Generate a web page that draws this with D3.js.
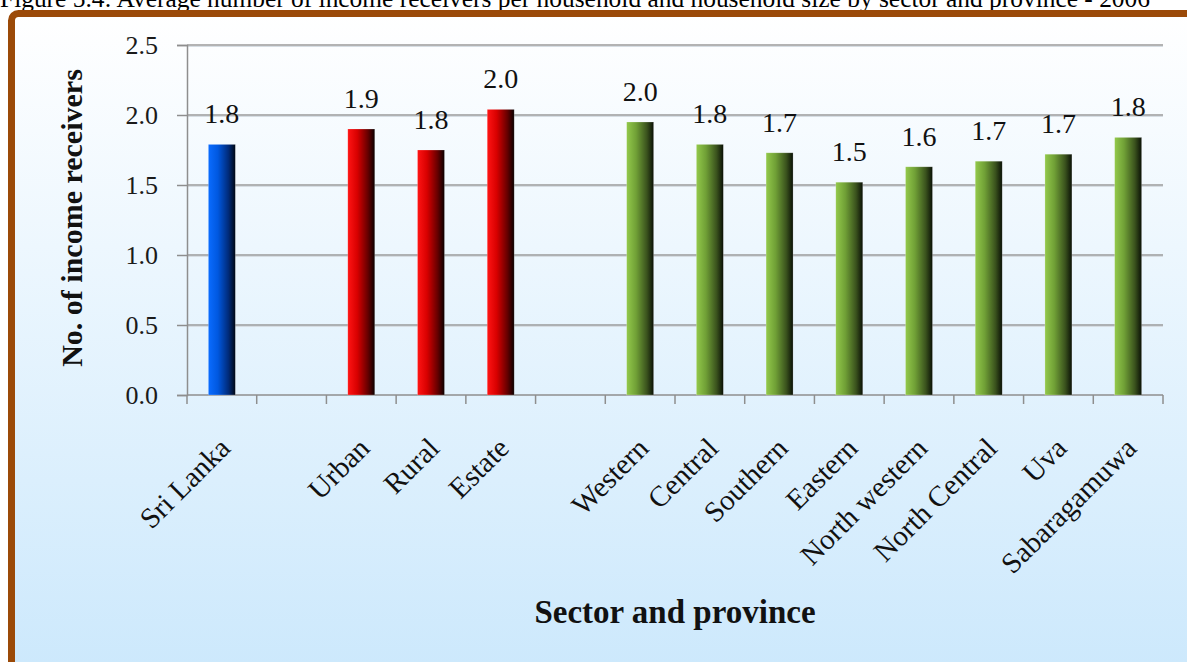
<!DOCTYPE html>
<html>
<head>
<meta charset="utf-8">
<script src="https://cdn.jsdelivr.net/npm/d3@7"></script>
<style>
  html, body { margin: 0; padding: 0; background: #ffffff; }
  svg { display: block; }
  text { font-family: "Liberation Serif", "Times New Roman", serif; }
</style>
</head>
<body>
<svg id="chart" width="1187" height="662"></svg>
<script>
// ---- data ----
const titleText = "Figure 5.4:  Average number of income receivers per household and household size by sector and province - 2006";
const categories = ["Sri Lanka", "", "Urban", "Rural", "Estate", "", "Western", "Central", "Southern", "Eastern", "North western", "North Central", "Uva", "Sabaragamuwa"];
const values = [1.79, null, 1.90, 1.75, 2.04, null, 1.95, 1.79, 1.73, 1.52, 1.63, 1.67, 1.72, 1.84];
const valueLabels = ["1.8", "", "1.9", "1.8", "2.0", "", "2.0", "1.8", "1.7", "1.5", "1.6", "1.7", "1.7", "1.8"];
const groups = ["national", "", "sector", "sector", "sector", "", "province", "province", "province", "province", "province", "province", "province", "province"];
const yTicks = [0, 0.5, 1.0, 1.5, 2.0, 2.5];
const yTitle = "No. of income receivers";
const xTitle = "Sector and province";

// ---- layout ----
const W = 1187, H = 662;
const plotL = 187, plotR = 1163, plotT = 45, plotB = 395;

const svg = d3.select("#chart");
const defs = svg.append("defs");

// background gradient
const bg = defs.append("linearGradient").attr("id", "bgGrad")
  .attr("x1", 0).attr("y1", 0).attr("x2", 0).attr("y2", 1);
bg.append("stop").attr("offset", "0%").attr("stop-color", "#ffffff");
bg.append("stop").attr("offset", "100%").attr("stop-color", "#c9e7fc");

// bar gradients
const barGrads = {
  national: ["#0a6cff", "#0058e0", "#002a78", "#000814"],
  sector:   ["#ff1414", "#d80000", "#640000", "#0a0000"],
  province: ["#93c94b", "#70a036", "#3a521d", "#0a1006"]
};
Object.entries(barGrads).forEach(([k, c]) => {
  const g = defs.append("linearGradient").attr("id", "g_" + k)
    .attr("x1", 0).attr("y1", 0).attr("x2", 1).attr("y2", 0);
  g.append("stop").attr("offset", "0%").attr("stop-color", c[0]);
  g.append("stop").attr("offset", "35%").attr("stop-color", c[1]);
  g.append("stop").attr("offset", "75%").attr("stop-color", c[2]);
  g.append("stop").attr("offset", "100%").attr("stop-color", c[3]);
});

// title (partially cut at top, as in the reference)
svg.append("text")
  .attr("x", 0).attr("y", 7)
  .attr("font-size", 25)
  .attr("textLength", 1150)
  .attr("lengthAdjust", "spacingAndGlyphs")
  .attr("fill", "#000")
  .text(titleText);

// frame with background
svg.append("rect")
  .attr("x", 11.5).attr("y", 13.5)
  .attr("width", 1200).attr("height", 700)
  .attr("rx", 7).attr("ry", 7)
  .attr("fill", "url(#bgGrad)")
  .attr("stroke", "#9b4a08")
  .attr("stroke-width", 7);

// scales
const idx = categories.map((d, i) => i);
const x = d3.scaleBand().domain(idx).range([plotL, plotR])
  .paddingInner(0.613).paddingOuter(0.3065);
const y = d3.scaleLinear().domain([0, 2.5]).range([plotB, plotT]);

// gridlines
const gridG = svg.append("g");
gridG.selectAll("line.grid").data(yTicks.filter(d => d > 0)).join("line")
  .attr("class", "grid")
  .attr("x1", plotL).attr("x2", plotR)
  .attr("y1", d => y(d)).attr("y2", d => y(d))
  .attr("stroke", "#9a9a9a").attr("stroke-width", 1.5);
gridG.selectAll("line.gridsh").data(yTicks.filter(d => d > 0)).join("line")
  .attr("class", "gridsh")
  .attr("x1", plotL).attr("x2", plotR)
  .attr("y1", d => y(d) + 1.5).attr("y2", d => y(d) + 1.5)
  .attr("stroke", "#d6dde3").attr("stroke-width", 1);

// y axis
const yAxis = d3.axisLeft(y).tickValues(yTicks).tickSize(10).tickPadding(19)
  .tickFormat(d3.format(".1f"));
const yG = svg.append("g").attr("transform", `translate(${plotL},0)`).call(yAxis);
yG.select(".domain").attr("stroke", "#8e8e8e").attr("stroke-width", 1.5);
yG.selectAll(".tick line").attr("stroke", "#8e8e8e").attr("stroke-width", 1.5);
yG.selectAll(".tick text")
  .attr("font-family", "Liberation Serif, Times New Roman, serif")
  .attr("font-size", 26).attr("fill", "#1a1a1a");

// x axis line + ticks at slot boundaries
const step = x.step();
const boundaries = d3.range(categories.length + 1).map(i => plotL + i * step);
svg.append("line")
  .attr("x1", plotL).attr("x2", plotR).attr("y1", plotB).attr("y2", plotB)
  .attr("stroke", "#8e8e8e").attr("stroke-width", 1.5);
svg.selectAll("line.xtick").data(boundaries).join("line")
  .attr("class", "xtick")
  .attr("x1", d => d).attr("x2", d => d)
  .attr("y1", plotB).attr("y2", plotB + 9)
  .attr("stroke", "#8e8e8e").attr("stroke-width", 1.5);

// bars
const barData = idx.filter(i => values[i] != null);
svg.selectAll("rect.bar").data(barData).join("rect")
  .attr("class", "bar")
  .attr("x", i => x(i))
  .attr("width", x.bandwidth())
  .attr("y", i => y(values[i]))
  .attr("height", i => y(0) - y(values[i]))
  .attr("fill", i => `url(#g_${groups[i]})`)
  .attr("stroke", "rgba(255,255,255,0.35)").attr("stroke-width", 0.6);

// value labels
svg.selectAll("text.vlab").data(barData).join("text")
  .attr("class", "vlab")
  .attr("x", i => x(i) + x.bandwidth() / 2)
  .attr("y", i => y(values[i]) - 21)
  .attr("text-anchor", "middle")
  .attr("font-size", 28)
  .attr("fill", "#111")
  .text(i => valueLabels[i]);

// category labels (rotated)
svg.selectAll("text.clab").data(idx.filter(i => categories[i] !== "")).join("text")
  .attr("class", "clab")
  .attr("transform", i => `translate(${x(i) + x.bandwidth() / 2 + 10},${450}) rotate(-45)`)
  .attr("text-anchor", "end")
  .attr("font-size", 29)
  .attr("fill", "#111")
  .text(i => categories[i]);

// axis titles
svg.append("text")
  .attr("transform", `translate(82,${(plotT + plotB) / 2 - 2}) rotate(-90)`)
  .attr("text-anchor", "middle")
  .attr("font-size", 30).attr("font-weight", "bold")
  .attr("fill", "#111")
  .text(yTitle);

svg.append("text")
  .attr("x", (plotL + plotR) / 2).attr("y", 623)
  .attr("text-anchor", "middle")
  .attr("font-size", 33).attr("font-weight", "bold")
  .attr("fill", "#111")
  .text(xTitle);
</script>
</body>
</html>
